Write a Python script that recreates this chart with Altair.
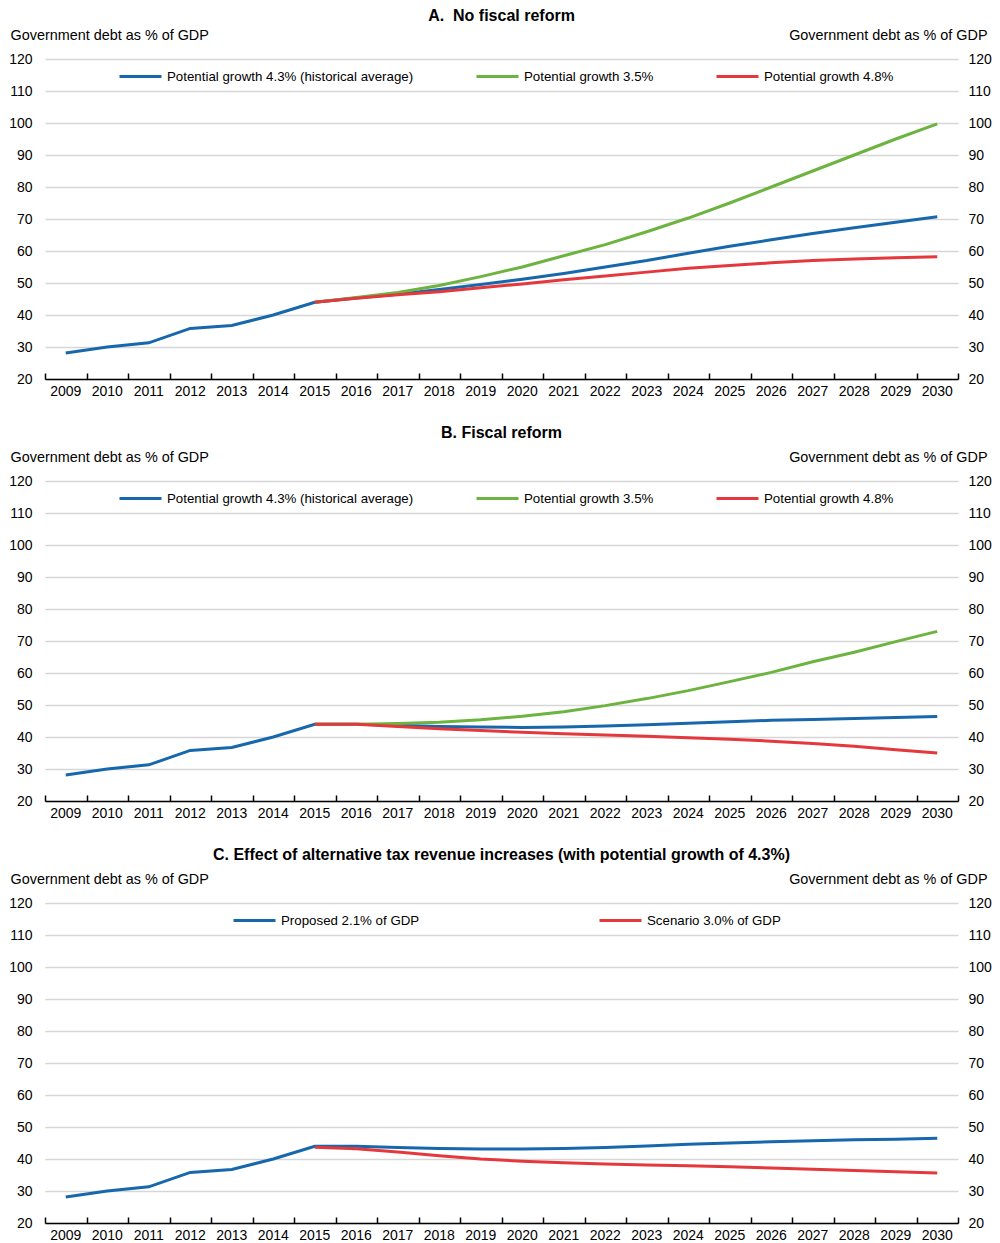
import altair as alt
import pandas as pd

# ---------------- data ----------------
years = list(range(2009, 2031))
hist_years = list(range(2009, 2016))
hist_debt = [28.1, 30.0, 31.3, 35.8, 36.7, 40.0, 44.0]
proj_years = list(range(2015, 2031))

names_ab = ["Potential growth 4.3% (historical average)", "Potential growth 3.5%", "Potential growth 4.8%"]
names_c = ["Proposed 2.1% of GDP", "Scenario 3.0% of GDP"]

a_base = [44.0, 45.3, 46.5, 48.0, 49.5, 51.2, 53.0, 55.0, 57.0, 59.3, 61.5, 63.5, 65.5, 67.3, 69.0, 70.7]
a_low = [44.0, 45.5, 47.0, 49.2, 52.0, 55.0, 58.5, 62.0, 66.0, 70.3, 75.0, 80.0, 85.0, 90.0, 95.0, 99.7]
a_high = [44.0, 45.2, 46.3, 47.3, 48.5, 49.7, 51.0, 52.2, 53.4, 54.6, 55.5, 56.3, 57.0, 57.5, 57.9, 58.2]

b_base = [44.0, 44.0, 43.7, 43.3, 43.1, 43.0, 43.1, 43.4, 43.8, 44.3, 44.8, 45.2, 45.5, 45.8, 46.1, 46.4]
b_low = [44.0, 44.0, 44.2, 44.6, 45.4, 46.5, 47.9, 49.8, 52.0, 54.5, 57.3, 60.2, 63.5, 66.5, 69.8, 73.0]
b_high = [44.0, 44.0, 43.3, 42.6, 42.0, 41.5, 41.0, 40.6, 40.2, 39.8, 39.3, 38.7, 38.0, 37.1, 36.0, 35.0]

c_prop = [44.0, 44.0, 43.6, 43.3, 43.1, 43.1, 43.3, 43.6, 44.1, 44.6, 45.0, 45.4, 45.7, 46.0, 46.2, 46.5]
c_scen = [43.7, 43.2, 42.2, 41.0, 40.0, 39.3, 38.8, 38.4, 38.1, 37.9, 37.6, 37.2, 36.8, 36.4, 36.0, 35.6]

y_ticks = list(range(20, 121, 10))

BLUE = "#1767ad"
GREEN = "#6cb33f"
RED = "#e5383d"

FONT = "Liberation Sans"
FS = 14
LFS = 13.3
PLOT_W = 913
PLOT_H = 320
YTITLE = "Government debt as % of GDP"


def panel(title, names, series, colors, legend_x, col_pad, title_offset):
    rows = []
    for i, (name, vals) in enumerate(zip(names, series)):
        if i == 0:
            yrs = hist_years + proj_years[1:]
            ys = hist_debt + vals[1:]
        else:
            yrs = proj_years
            ys = vals
        for yr, v in zip(yrs, ys):
            rows.append({"year": str(yr), "value": v, "series": name})
    df = pd.DataFrame(rows)

    xscale = alt.Scale(type="band", paddingInner=0, paddingOuter=0, domain=[str(y) for y in years])
    yscale = alt.Scale(domain=[20, 120], nice=False, zero=False)
    legend = alt.Legend(
        orient="none", legendX=legend_x, legendY=-5, direction="horizontal",
        columns=len(names), columnPadding=col_pad, symbolType="stroke",
        symbolSize=1764, symbolStrokeWidth=3, labelOffset=4, title=None,
        labelFont=FONT, labelFontSize=LFS, labelColor="#000000", padding=0,
        labelLimit=600,
    )
    color = alt.Color("series:N", scale=alt.Scale(domain=names, range=colors), legend=legend)

    x_ticks_axis = alt.Axis(
        orient="bottom", offset=-6, domain=False, labels=False, ticks=True,
        tickSize=6, tickWidth=1.5, tickColor="#000000", tickBand="extent",
        grid=False, title=None,
    )
    x_label_axis = alt.Axis(
        orient="bottom", domain=True, domainColor="#000000", domainWidth=1.5,
        ticks=False, labels=True, labelAngle=0, labelPadding=5, grid=False, title=None,
        labelFont=FONT, labelFontSize=FS, labelColor="#000000",
    )
    y_left = alt.Axis(
        orient="left", values=y_ticks, grid=True, gridColor="#d6d6d6", gridWidth=1.5,
        domain=False, ticks=False, labelPadding=13, labelFont=FONT, labelFontSize=FS,
        labelColor="#000000", title=YTITLE, titleAngle=0, titleX=-35, titleY=-24,
        titleAlign="left", titleBaseline="middle", titleFont=FONT, titleFontSize=14.4,
        titleFontWeight="normal", titleColor="#000000",
    )
    y_right = alt.Axis(
        orient="right", values=y_ticks, grid=False, domain=False, ticks=False,
        labelPadding=10, labelFont=FONT, labelFontSize=FS, labelColor="#000000",
        title=YTITLE, titleAngle=0, titleX=29, titleY=-24, titleAlign="right",
        titleBaseline="middle", titleFont=FONT, titleFontSize=14.4,
        titleFontWeight="normal", titleColor="#000000",
    )

    base = alt.Chart(df)
    layers = []
    for i, name in enumerate(names):
        if i == 0:
            xa, ya = x_ticks_axis, y_left
        elif i == 1:
            xa, ya = x_label_axis, y_right
        else:
            xa, ya = None, None
        layers.append(
            base.transform_filter(alt.datum.series == name)
            .mark_line(strokeWidth=3)
            .encode(
                x=alt.X("year:O", scale=xscale, bandPosition=0.5, axis=xa),
                y=alt.Y("value:Q", scale=yscale, axis=ya),
                color=color,
            )
        )
    ch = alt.layer(*layers).resolve_axis(x="independent", y="independent").properties(
        width=PLOT_W, height=PLOT_H,
        title=alt.TitleParams(text=title, fontSize=16, fontWeight="bold", font=FONT,
                              anchor="middle", color="#000000", offset=title_offset),
    )
    return ch


pA = panel("A.\u00a0\u00a0No fiscal reform", names_ab, [a_base, a_low, a_high],
           [BLUE, GREEN, RED], 73, 56, 3)
pB = panel("B. Fiscal reform", names_ab, [b_base, b_low, b_high],
           [BLUE, GREEN, RED], 73, 56, 8)
pC = panel("C. Effect of alternative tax revenue increases (with potential growth of 4.3%)",
           names_c, [c_prop, c_scen], [BLUE, RED], 187, 173, 8)

chart = (
    alt.vconcat(pA, pB, pC, spacing=27)
    .resolve_scale(color="independent", x="independent", y="independent")
    .resolve_legend(color="independent")
    .properties(padding={"left": 0, "top": 0, "right": 0, "bottom": 0})
    .configure_view(stroke=None)
)

chart.save("out.html", embed_options={"renderer": "svg", "actions": False})
